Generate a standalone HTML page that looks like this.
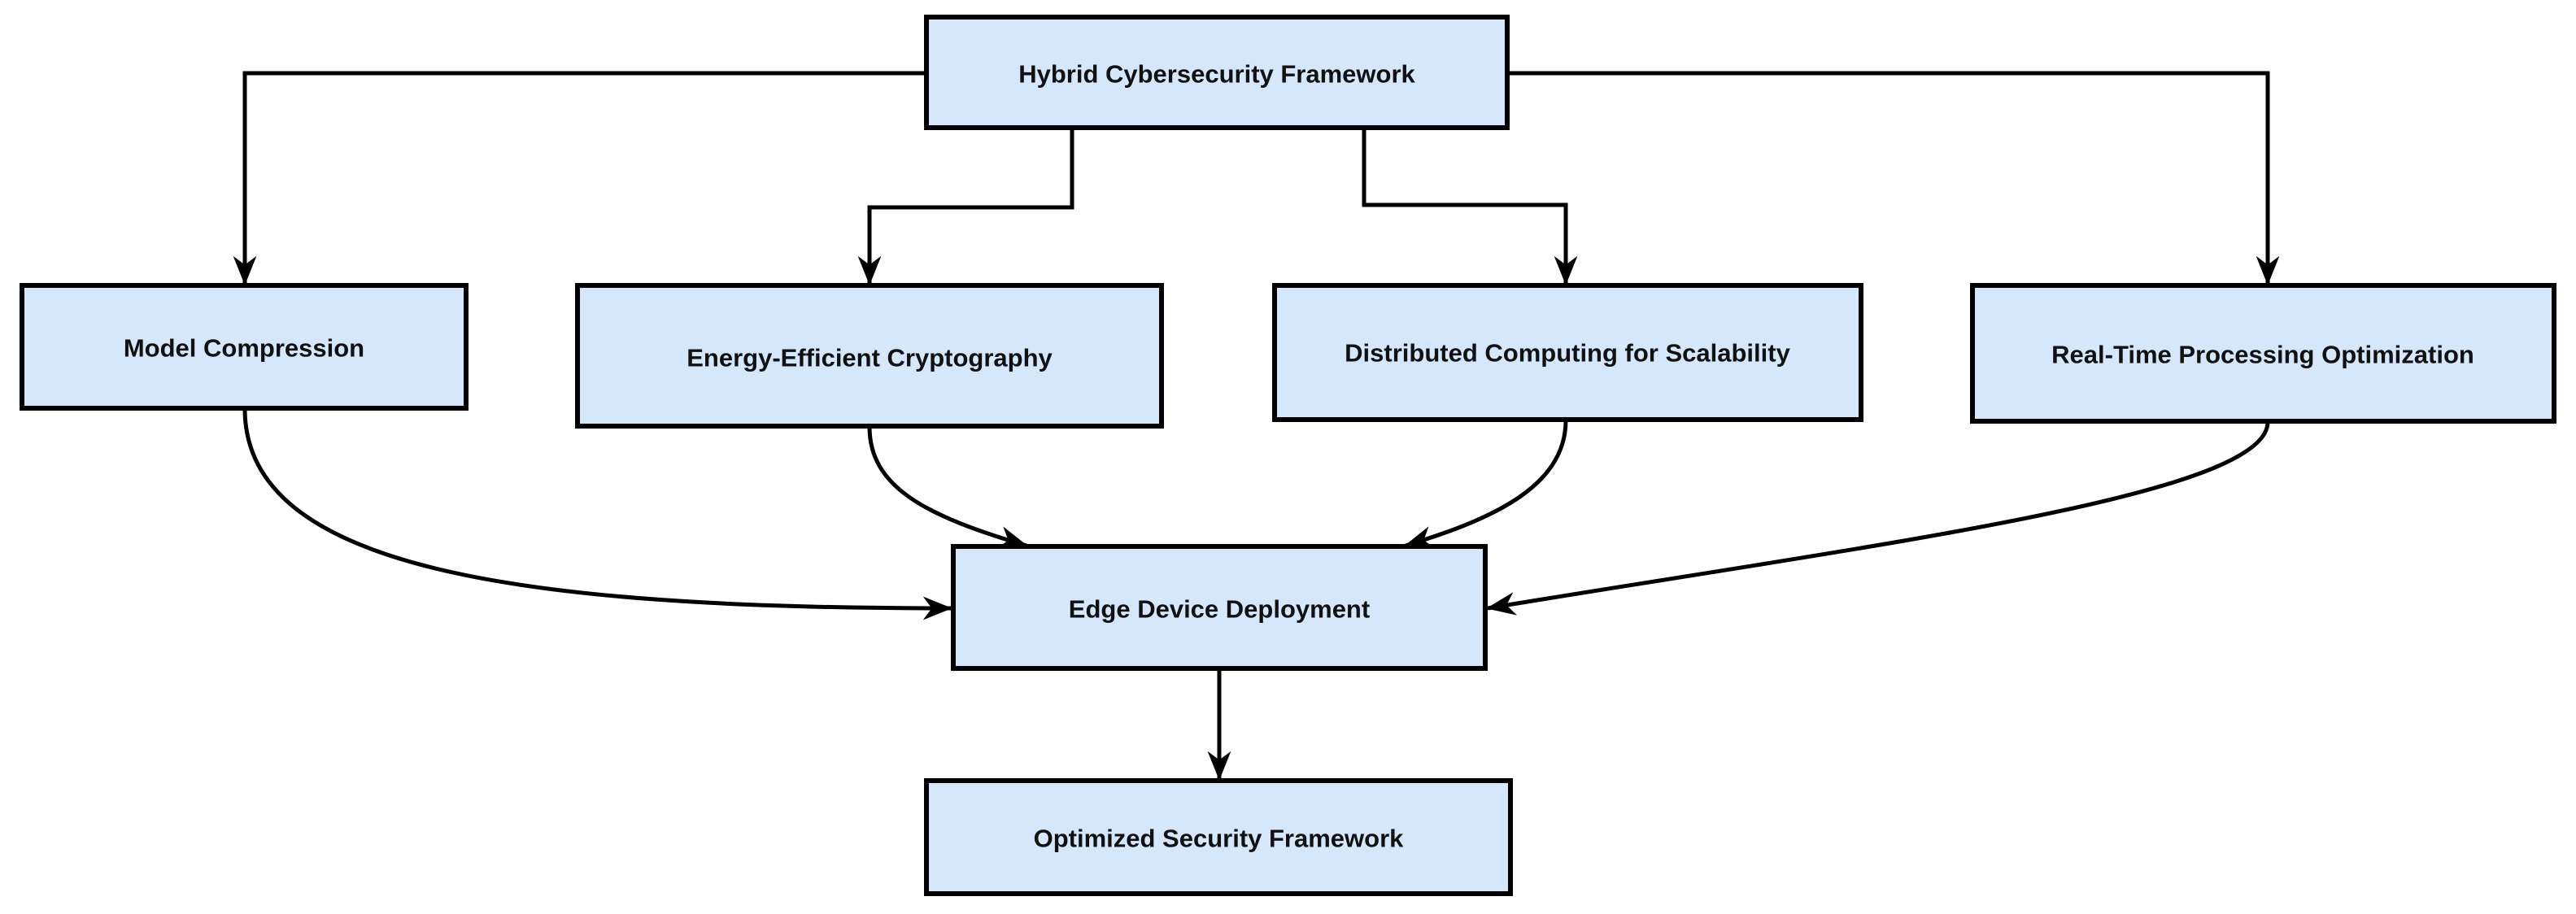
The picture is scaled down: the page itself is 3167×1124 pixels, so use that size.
<!DOCTYPE html>
<html><head><meta charset="utf-8"><style>
html,body{margin:0;padding:0;background:#fff;}
svg{display:block;}
text{font-family:"Liberation Sans",Arial,sans-serif;font-weight:bold;font-size:31px;fill:#111;}
</style></head><body>
<svg width="3167" height="1124" viewBox="0 0 3167 1124" xmlns="http://www.w3.org/2000/svg">
<defs>
<marker id="ar" viewBox="0 0 20 20" refX="19" refY="10" markerWidth="36" markerHeight="36" markerUnits="userSpaceOnUse" orient="auto">
<path d="M0,2 L20,10 L0,18 L6,10 Z" fill="#000"/>
</marker>
</defs>
<g fill="none" stroke="#000" stroke-width="5">
<path d="M1137,90 H301 V349" marker-end="url(#ar)"/>
<path d="M1318,158 V255 H1069 V349" marker-end="url(#ar)"/>
<path d="M1677,158 V252 H1925 V349" marker-end="url(#ar)"/>
<path d="M1854,90 H2788 V349" marker-end="url(#ar)"/>
<path d="M301,503 C301,700 640,748 1169,748" marker-end="url(#ar)"/>
<path d="M1069,525 C1069,600 1140,635 1262,671" marker-end="url(#ar)"/>
<path d="M1925,517 C1925,600 1830,640 1728,671" marker-end="url(#ar)"/>
<path d="M2788,519 C2788,610 2300,670 1829,748" marker-end="url(#ar)"/>
<path d="M1499,823 V958" marker-end="url(#ar)"/>
</g>
<g fill="#d5e8fb" stroke="#000" stroke-width="6">
<rect x="1139" y="21" width="714" height="136"/>
<rect x="27" y="351" width="546" height="151"/>
<rect x="710" y="351" width="718" height="173"/>
<rect x="1567" y="351" width="721" height="165"/>
<rect x="2425" y="351" width="715" height="167"/>
<rect x="1172" y="672" width="654" height="150"/>
<rect x="1139" y="960" width="718" height="139"/>
</g>
<g text-anchor="middle" dominant-baseline="central">
<text x="1496" y="91">Hybrid Cybersecurity Framework</text>
<text x="300" y="428">Model Compression</text>
<text x="1069" y="440">Energy-Efficient Cryptography</text>
<text x="1927" y="434">Distributed Computing for Scalability</text>
<text x="2782" y="436">Real-Time Processing Optimization</text>
<text x="1499" y="749">Edge Device Deployment</text>
<text x="1498" y="1031">Optimized Security Framework</text>
</g>
</svg>
</body></html>
